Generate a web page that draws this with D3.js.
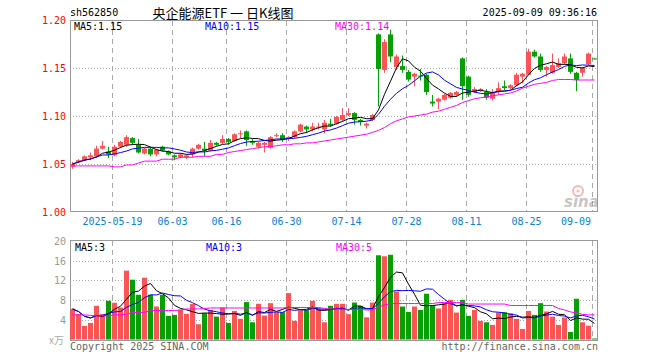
<!DOCTYPE html>
<html><head><meta charset="utf-8">
<script src="https://cdn.jsdelivr.net/npm/d3@7"></script>
<style>body{margin:0;background:#fff;} svg{display:block;}</style>
</head><body><svg id="c" width="660" height="360"></svg>
<script>
const dates = ["05-08","05-09","05-12","05-13","05-14","05-15","05-16","05-19","05-20","05-21","05-22","05-23","05-26","05-27","05-28","05-29","05-30","06-03","06-04","06-05","06-06","06-09","06-10","06-11","06-12","06-13","06-16","06-17","06-18","06-19","06-20","06-23","06-24","06-25","06-26","06-27","06-30","07-01","07-02","07-03","07-04","07-07","07-08","07-09","07-10","07-11","07-14","07-15","07-16","07-17","07-18","07-21","07-22","07-23","07-24","07-25","07-28","07-29","07-30","07-31","08-01","08-04","08-05","08-06","08-07","08-08","08-11","08-12","08-13","08-14","08-15","08-18","08-19","08-20","08-21","08-22","08-25","08-26","08-27","08-28","08-29","09-01","09-02","09-03","09-04","09-05","09-08","09-09"];

const opens = [1.047,1.052,1.054,1.057,1.058,1.066,1.063,1.059,1.068,1.070, 1.077,1.070,1.061,1.066,1.060,1.068,1.063,1.059,1.057,1.057, 1.060,1.066,1.066,1.064,1.072,1.072,1.076,1.074,1.081,1.084, 1.074,1.068,1.070,1.067,1.079,1.080,1.076,1.078,1.084,1.089, 1.086,1.088,1.086,1.092,1.092,1.096,1.101,1.103,1.096,1.090, 1.096,1.185,1.148,1.185,1.151,1.152,1.146,1.141,1.142,1.143, 1.115,1.115,1.117,1.119,1.122,1.160,1.141,1.125,1.126,1.125, 1.118,1.125,1.131,1.129,1.132,1.141,1.143,1.167,1.162,1.148, 1.145,1.151,1.155,1.160,1.145,1.145,1.154,1.160];
const highs = [1.052,1.055,1.059,1.062,1.069,1.074,1.068,1.070,1.074,1.080, 1.078,1.076,1.067,1.068,1.066,1.069,1.064,1.060,1.061,1.060, 1.067,1.071,1.073,1.075,1.073,1.080,1.077,1.082,1.085,1.085, 1.076,1.073,1.073,1.079,1.082,1.082,1.079,1.085,1.092,1.090, 1.093,1.093,1.096,1.097,1.100,1.108,1.108,1.104,1.097,1.093, 1.102,1.186,1.180,1.190,1.164,1.163,1.148,1.145,1.149,1.144, 1.122,1.119,1.123,1.125,1.126,1.161,1.142,1.130,1.129,1.128, 1.128,1.135,1.137,1.133,1.145,1.145,1.170,1.169,1.165,1.152, 1.165,1.160,1.165,1.165,1.146,1.151,1.166,1.160];
const lows = [1.045,1.051,1.053,1.054,1.056,1.065,1.056,1.058,1.067,1.068, 1.070,1.061,1.060,1.058,1.058,1.063,1.059,1.054,1.056,1.055, 1.057,1.065,1.058,1.063,1.069,1.071,1.070,1.073,1.077,1.069, 1.070,1.066,1.062,1.066,1.078,1.073,1.074,1.077,1.083,1.082, 1.084,1.086,1.082,1.089,1.091,1.094,1.100,1.091,1.090,1.087, 1.095,1.110,1.145,1.156,1.148,1.145,1.136,1.131,1.137,1.122, 1.110,1.107,1.116,1.118,1.120,1.117,1.120,1.124,1.125,1.117, 1.116,1.122,1.127,1.128,1.131,1.134,1.143,1.161,1.146,1.141, 1.144,1.150,1.154,1.144,1.126,1.141,1.153,1.159];
const closes = [1.050,1.054,1.058,1.059,1.066,1.069,1.060,1.068,1.073,1.078, 1.072,1.062,1.066,1.060,1.065,1.064,1.060,1.057,1.060,1.059, 1.066,1.070,1.064,1.072,1.070,1.076,1.073,1.081,1.082,1.075, 1.072,1.072,1.072,1.078,1.080,1.075,1.078,1.084,1.091,1.086, 1.089,1.089,1.093,1.090,1.099,1.101,1.103,1.096,1.094,1.092, 1.101,1.149,1.177,1.162,1.162,1.148,1.138,1.144,1.141,1.125, 1.113,1.118,1.122,1.124,1.125,1.131,1.122,1.128,1.128,1.119, 1.125,1.129,1.129,1.132,1.143,1.144,1.167,1.162,1.148,1.151, 1.153,1.155,1.162,1.146,1.1375,1.150,1.165,1.159];
const volumes = [6.22,5.14,2.76,3.37,6.84,5.14,7.86,7.45,6.5,13.98, 12.14,9.08,12.55,9.08,6.7,9.08,4.8,5.0,6.0,5.2, 7.2,3.1,5.35,6.0,4.65,6.5,3.37,5.8,4.2,7.6, 3.5,7.24,4.86,7.38,5.55,5.55,9.42,3.78,5.95,5.95, 7.86,6.22,3.5,6.84,7.24,7.24,5.14,7.5,6.84,4.5, 7.5,17.1,16.9,17.2,9.76,6.7,5.6,6.7,6.0,9.29, 6.9,6.3,7.38,8.06,5.47,8.06,4.8,6.0,3.78,3.5, 2.96,5.47,5.55,5.34,4.2,2.14,5.8,5.0,7.38,5.68, 4.65,2.96,4.45,1.53,8.27,3.5,2.8,0.2];
const ma30Price = [1.048,1.048,1.048,1.048,1.048,1.048,1.048,1.047,1.047,1.049, 1.049,1.051,1.053,1.053,1.053,1.055,1.055,1.055,1.057,1.057, 1.057,1.058,1.058,1.058,1.060,1.060,1.062,1.063,1.064,1.065, 1.066,1.067,1.068,1.068,1.069,1.070,1.070,1.071,1.071,1.072, 1.072,1.073,1.074,1.075,1.076,1.077,1.078,1.079,1.080,1.081, 1.083,1.085,1.088,1.092,1.095,1.097,1.099,1.100,1.101,1.102, 1.104,1.105,1.107,1.109,1.111,1.114,1.116,1.118,1.119,1.120, 1.121,1.122,1.123,1.124,1.126,1.129,1.131,1.133,1.134,1.135, 1.137,1.138,1.138,1.138,1.1375,1.1375,1.1375,1.1375];
const ma30Vol = [5.0,5.0,5.0,4.9,4.8,4.8,4.8, 5.0,5.0,5.1, 5.5,5.5,5.5, 5.9,5.9,5.9,5.9,5.9,6.0, 6.2,6.2,6.2,6.3, 6.4,6.4,6.4,6.4,6.4,6.4,6.4,6.4,6.4,6.4,6.4,6.4,6.4, 6.5,6.5,6.5,6.5,6.5,6.5, 6.3,6.2,6.2,6.1,6.1,6.1,6.1,6.0,6.0, 6.6,7.0, 7.3,7.3,7.3,7.3,7.3,7.3,7.3,7.3, 7.5,7.5,7.5,7.5,7.5, 7.2,7.2,7.2,7.2,7.2,7.2,7.2, 6.9,6.9,6.9,6.9,6.9,6.9,6.9,6.9, 6.3,6.0, 5.6,5.4, 5.1,5.0,5.0];

const tickDates = ["05-19","06-03","06-16","06-30","07-14","07-28","08-11","08-25","09-09"];
const tickLabels = ["2025-05-19","06-03","06-16","06-30","07-14","07-28","08-11","08-25","09-09"];
const priceTicks = [1.00,1.05,1.10,1.15,1.20];
const volTicks = [4,8,12,16,20];
const priceMaLabels = ["MA5:1.15","MA10:1.15","MA30:1.14"];
const volMaLabels = ["MA5:3","MA10:3","MA30:5"];
const maColors = ["#000000","#0000ff","#ff00ff"];
const code = "sh562850";
const title = "央企能源ETF 一 日K线图";
const stamp = "2025-09-09 09:36:16";

const RED = "#f95555", GREEN = "#06a006";
const MONO = "DejaVu Sans Mono, Liberation Mono, monospace";

const svg = d3.select("#c");
const x = d3.scaleBand().domain(dates).range([69.5, 597.5]).paddingInner(1/6).paddingOuter(1/12);
const cx = i => x(dates[i]) + 2.5;
const yP = d3.scaleLinear().domain([1.0, 1.2]).range([212, 20]);
const yV = d3.scaleLinear().domain([0, 20]).range([339.5, 241]);

function movAvg(arr, n) {
  return arr.map((_, i) => d3.mean(arr.slice(Math.max(0, i - n + 1), i + 1)));
}

// grid
const g = svg.append("g");
g.selectAll(".hp").data(priceTicks.filter(v => v > 1.0 && v < 1.2)).join("line")
  .attr("x1", 70).attr("x2", 597).attr("y1", d => Math.round(yP(d)) + 0.5).attr("y2", d => Math.round(yP(d)) + 0.5)
  .attr("stroke", "#aaa").attr("stroke-dasharray", "1,2");
g.selectAll(".hv").data(volTicks.filter(v => v < 20)).join("line")
  .attr("x1", 70).attr("x2", 597).attr("y1", d => Math.round(yV(d)) + 0.5).attr("y2", d => Math.round(yV(d)) + 0.5)
  .attr("stroke", "#aaa").attr("stroke-dasharray", "1,2");
tickDates.forEach(d => {
  const xx = x(d) + 0.5;
  g.append("line").attr("x1", xx).attr("x2", xx).attr("y1", 21).attr("y2", 211)
    .attr("stroke", "#aaa").attr("stroke-dasharray", "5,4");
  g.append("line").attr("x1", xx).attr("x2", xx).attr("y1", 241).attr("y2", 340)
    .attr("stroke", "#aaa").attr("stroke-dasharray", "5,4");
});

// sina watermark
const wm = svg.append("g").attr("opacity", 0.55);
wm.append("circle").attr("cx", 578).attr("cy", 191).attr("r", 5).attr("fill", "none").attr("stroke", "#f08080").attr("stroke-width", 2);
wm.append("circle").attr("cx", 578).attr("cy", 191).attr("r", 1.6).attr("fill", "#f08080");
wm.append("text").attr("x", 564).attr("y", 207).attr("font-family", "DejaVu Sans, sans-serif").attr("font-style", "italic")
  .attr("font-weight", "bold").attr("font-size", 15).attr("fill", "#999").text("sina");

// borders
svg.append("rect").attr("x", 70.5).attr("y", 20.5).attr("width", 527).attr("height", 191)
  .attr("fill", "none").attr("stroke", "#999");
svg.append("rect").attr("x", 70.5).attr("y", 240.5).attr("width", 527).attr("height", 100)
  .attr("fill", "none").attr("stroke", "#999");

// candles
const idx = d3.range(dates.length);
const col = i => closes[i] >= opens[i] ? RED : GREEN;
svg.append("g").selectAll("line").data(idx).join("line")
  .attr("x1", cx).attr("x2", cx)
  .attr("y1", i => yP(highs[i])).attr("y2", i => yP(lows[i]))
  .attr("stroke", col);
svg.append("g").selectAll("rect").data(idx).join("rect")
  .attr("x", i => x(dates[i])).attr("width", x.bandwidth())
  .attr("y", i => Math.min(yP(opens[i]), yP(closes[i])))
  .attr("height", i => Math.max(1, Math.abs(yP(opens[i]) - yP(closes[i]))))
  .attr("fill", col);

// price MAs
const pMAs = [movAvg(closes, 5), movAvg(closes, 10), ma30Price];
pMAs.forEach((arr, k) => {
  svg.append("path").attr("d", d3.line().x((d, i) => cx(i)).y(d => yP(d))(arr))
    .attr("fill", "none").attr("stroke", maColors[k]).attr("stroke-width", 1);
});

// volume bars
svg.append("g").selectAll("rect").data(idx).join("rect")
  .attr("x", i => x(dates[i])).attr("width", x.bandwidth())
  .attr("y", i => yV(volumes[i])).attr("height", i => yV(0) - yV(volumes[i]))
  .attr("fill", col);
const vMAs = [movAvg(volumes, 5), movAvg(volumes, 10), ma30Vol];
vMAs.forEach((arr, k) => {
  svg.append("path").attr("d", d3.line().x((d, i) => cx(i)).y(d => yV(d))(arr))
    .attr("fill", "none").attr("stroke", maColors[k]).attr("stroke-width", 1);
});

// axis labels
svg.append("g").selectAll("text").data(priceTicks).join("text")
  .attr("x", 66).attr("y", d => yP(d) + 4).attr("text-anchor", "end")
  .attr("font-family", MONO).attr("font-size", 10).attr("fill", "#ff0000")
  .text(d => d.toFixed(2));
svg.append("g").selectAll("text").data(volTicks).join("text")
  .attr("x", 66).attr("y", d => yV(d) + 4).attr("text-anchor", "end")
  .attr("font-family", MONO).attr("font-size", 10).attr("fill", "#999")
  .text(d => d);
svg.append("text").attr("x", 49).attr("y", 344).attr("font-family", "Noto Sans CJK SC, sans-serif")
  .attr("font-size", 10).attr("fill", "#aaa").text("x万");

tickDates.forEach((d, k) => {
  const last = k === tickDates.length - 1;
  svg.append("text").attr("x", last ? 591 : x(d) + 0.5).attr("y", 225)
    .attr("text-anchor", last ? "end" : "middle")
    .attr("font-family", MONO).attr("font-size", 10).attr("fill", "#0a80d8")
    .text(tickLabels[k]);
});

// MA labels
const maX = [74, 205, 335];
priceMaLabels.forEach((t, k) => {
  svg.append("text").attr("x", maX[k]).attr("y", 30).attr("font-family", MONO).attr("font-size", 10)
    .attr("fill", maColors[k]).text(t);
});
volMaLabels.forEach((t, k) => {
  svg.append("text").attr("x", maX[k] + 1).attr("y", 251).attr("font-family", MONO).attr("font-size", 10)
    .attr("fill", maColors[k]).text(t);
});

// header
svg.append("text").attr("x", 70).attr("y", 16).attr("font-family", MONO).attr("font-size", 10).attr("fill", "#000").text(code);
svg.append("text").attr("x", 223).attr("y", 18).attr("text-anchor", "middle")
  .attr("font-family", "Noto Sans CJK SC, sans-serif").attr("font-size", 13).attr("fill", "#000").text(title);
svg.append("text").attr("x", 597).attr("y", 16).attr("text-anchor", "end").attr("font-family", MONO).attr("font-size", 10).attr("fill", "#000").text(stamp);

// footer
svg.append("text").attr("x", 70).attr("y", 350).attr("font-family", MONO).attr("font-size", 10).attr("fill", "#666").text("Copyright 2025 SINA.COM");
svg.append("text").attr("x", 598).attr("y", 350).attr("text-anchor", "end").attr("font-family", MONO).attr("font-size", 10).attr("fill", "#666").text("http://finance.sina.com.cn");
</script></body></html>
